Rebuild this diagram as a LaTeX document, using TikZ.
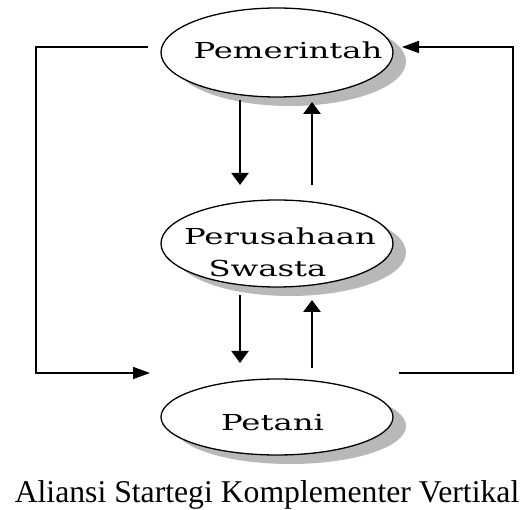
\documentclass[tikz,border=0pt]{standalone}
\usepackage{fontspec}
\setmainfont{Liberation Serif}
\newfontfamily\nodefont{DejaVu Serif}
\usetikzlibrary{shapes.geometric,shadows,arrows.meta}
\tikzset{
  ell/.style={ellipse, draw=black, line width=1.3pt, fill=white, inner sep=0pt,
    minimum width=232pt,
    drop shadow={shadow xshift=13pt, shadow yshift=-9pt, fill=black!28, opacity=1}},
  lbl/.style={anchor=base, inner sep=0pt, font=\nodefont\fontsize{22}{26}\selectfont},
  loopline/.style={line width=1.5pt},
  harrow/.style={-{Triangle[length=17pt,width=12pt]}},
  vdown/.style={line width=2pt,-{Triangle[length=12pt,width=17pt]}},
  vup/.style={line width=2.8pt,-{Triangle[length=12pt,width=17pt]}},
}
\newcommand{\stretchtxt}[1]{\scalebox{1.47}[1]{#1}}
\begin{document}
\begin{tikzpicture}[x=1pt,y=-1pt]
\useasboundingbox (0,0) rectangle (525,510);
% ellipses
\node[ell, minimum height=89pt] (pem) at (277,52.5) {};
\node[ell, minimum height=87pt] (pers) at (277,243.5) {};
\node[ell, minimum height=76pt] (pet) at (277,417) {};
% labels
\node[lbl] (pemT) at (288,59) {\stretchtxt{Pemerintah}};
\node[lbl] (persT1) at (280,245) {\stretchtxt{Perusahaan}};
\node[lbl] (persT2) at (267.5,277) {\stretchtxt{Swasta}};
\node[lbl] (petT) at (272.5,431) {\stretchtxt{Petani}};
% caption
\node[anchor=base, inner sep=0pt, font=\fontsize{31.7}{36}\selectfont] (cap) at (267,503) {Aliansi Startegi Komplementer Vertikal};
% loop coordinates
\coordinate (l1) at (148,47);
\coordinate (l2) at (36,47);
\coordinate (l3) at (36,373);
\coordinate (l4) at (150,373);
\coordinate (r1) at (399,373);
\coordinate (r2) at (513,373);
\coordinate (r3) at (513,47);
\coordinate (r4) at (402,47);
\draw[loopline, harrow] (l1) -- (l2) -- (l3) -- (l4);
\draw[loopline, harrow] (r1) -- (r2) -- (r3) -- (r4);
% vertical arrows
\coordinate (d1s) at (240,100);
\coordinate (d1e) at (240,185);
\coordinate (u1s) at (312,185);
\coordinate (u1e) at (312,102);
\coordinate (d2s) at (240,295);
\coordinate (d2e) at (240,363);
\coordinate (u2s) at (312,368);
\coordinate (u2e) at (312,300);
\draw[vdown] (d1s) -- (d1e);
\draw[vup] (u1s) -- (u1e);
\draw[vdown] (d2s) -- (d2e);
\draw[vup] (u2s) -- (u2e);
\end{tikzpicture}
\end{document}
